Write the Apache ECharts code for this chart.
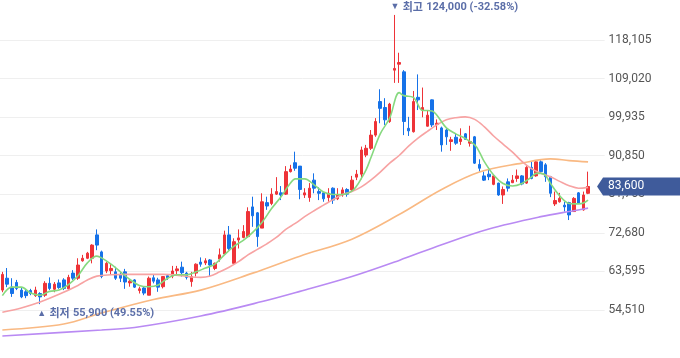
<!DOCTYPE html>
<html><head><meta charset="utf-8">
<script src="https://cdn.jsdelivr.net/npm/echarts@6/dist/echarts.min.js"></script>
<style>html,body{margin:0;padding:0;background:#fff}#c{width:680px;height:358px}</style>
</head><body><div id="c"></div>
<script>
// OHLC per trading day
const opens = [59200,62000,59900,61000,59200,58800,59100,57900,58400,58000,60800,59400,60900,61600,59500,63200,62000,66100,66700,66700,72200,68200,63700,63800,63500,62900,63500,60900,61600,59100,59700,58000,62100,61600,60000,62600,62500,63800,64600,63200,61200,63200,65800,65600,66300,64300,66500,67700,72200,65500,71000,71600,71800,78800,77400,73800,79800,79600,81800,82100,81800,87100,89200,88400,81600,81000,85100,82400,82100,81000,83200,80700,81600,82900,82800,85800,86500,91000,92600,95700,103600,102200,98900,111000,112400,110600,97300,96500,104600,101600,97800,104000,98200,97400,96900,94200,95200,94200,96000,93800,95300,88800,86100,86500,84100,84400,81600,84700,84500,85500,86100,84400,88100,86100,89400,88700,85900,79500,80000,79200,79800,77700,82100,78100,82000];
const closes = [62900,60600,58400,59600,57600,57900,58400,59200,57600,60800,59600,60600,59800,59600,62200,62000,65100,66700,67900,69800,69800,62400,65500,64300,62000,62000,61100,61300,59900,59500,58500,62000,61300,59900,62400,62100,63700,64200,63300,62200,62400,65300,65300,66100,65100,65500,67500,72200,69000,70600,71500,73000,77700,76700,71800,80000,79000,81800,82400,81600,87100,87700,87900,82900,82100,83200,83200,82000,80700,82000,80400,81600,82800,81800,85100,86500,92200,92600,95700,98900,102000,99300,103000,111400,112800,98900,96700,103600,104000,102200,100400,98100,98500,93400,95300,94600,93800,94800,94700,94200,89100,87900,85100,85900,86100,81600,82900,83200,85100,86100,84200,88100,85500,89400,87100,85900,82000,80300,80800,78800,76900,80800,79600,81600,83600];
const lows = [58700,59900,57600,59200,57300,57300,58000,57600,55900,57600,59200,58700,59500,59200,59200,61600,61600,65900,66500,65500,68600,62000,63200,62800,61600,61100,59500,60000,59700,58400,58000,58000,60800,58800,59600,61600,62000,62800,62400,61700,60000,62400,64700,65100,62400,63900,65900,67500,68600,65500,69000,71400,71600,74100,69400,73800,78100,79200,81600,80400,81600,86900,87300,80600,80900,80000,82000,80400,80000,80000,79500,80400,81200,81200,82400,85100,85300,90500,92200,95300,98500,98100,98600,108000,108000,95700,95500,96300,101600,99900,97700,97600,96900,91800,93400,92000,93400,93400,94600,93000,88900,87100,84900,85100,83900,81400,79500,82400,84400,84700,83900,84200,85300,85900,86700,84700,81100,79000,79800,77700,75700,77600,79500,77900,81800];
const highs = [63500,64400,62000,61600,59700,59200,59500,60000,58700,61300,62200,61100,61700,62000,62800,63900,66700,67500,68200,70000,73500,68500,65800,65500,64700,63500,64200,61600,61800,60000,60000,62400,62800,62100,62500,63000,64900,64900,65900,63500,63500,65500,66900,66700,66500,65700,69000,73200,74300,71400,73500,74500,78700,81200,77600,82000,81200,83200,85800,83700,88400,88700,91800,88400,83200,84400,86700,83400,82300,83200,83400,83200,83400,83200,86100,87500,93000,93400,96900,99700,106500,104400,103300,124000,115100,111000,100000,106100,110000,106900,101600,104100,99400,97700,97300,95300,96100,97300,96200,97900,95500,90000,87100,88100,86300,84500,83600,85500,86300,87600,86300,88400,89400,89800,89800,89100,86100,82400,82100,80000,80000,81100,82300,82400,87100];
// moving averages read at sampled days: [dayIndex, value]
const ma5 = [[0,57900],[2,59900],[4,59900],[6,58500],[8,58000],[10,58900],[12,59200],[14,60500],[16,62600],[18,65600],[20,67200],[21,66800],[23,65300],[25,63500],[27,61700],[29,60300],[31,60000],[33,60400],[35,62000],[37,62800],[39,62800],[41,63500],[43,64400],[45,65300],[47,67500],[49,69500],[51,70900],[53,72800],[55,75200],[57,78400],[59,81200],[61,84400],[62,85400],[64,85400],[66,84000],[68,82300],[70,81700],[72,81700],[74,82500],[75,83700],[76,85500],[77,87500],[78,90300],[80,96000],[82,99700],[84,105700],[85,105000],[87,104600],[89,101500],[90,101500],[91,101400],[92,100400],[94,97400],[96,96000],[98,94900],[100,93400],[101,91700],[102,89500],[104,86300],[106,84300],[108,83700],[110,84300],[112,85800],[113,86700],[114,86700],[115,86200],[116,84400],[118,81400],[120,79600],[122,79500],[123,79700],[124,80400]];
const ma20 = [[0,54000],[4,55000],[8,56400],[12,58200],[16,60300],[18,61600],[20,62500],[23,62800],[26,62900],[30,62900],[34,62900],[38,62600],[40,62300],[42,62200],[44,62500],[46,63500],[48,64600],[50,65900],[52,67500],[54,68800],[56,70100],[58,71600],[60,73500],[62,74900],[64,76500],[66,77900],[68,79200],[70,80500],[72,81700],[74,82400],[76,83500],[78,85100],[80,87000],[82,89100],[84,90900],[86,93100],[88,95000],[90,96600],[92,98100],[94,99300],[96,99800],[98,100000],[100,99400],[102,97700],[104,95500],[106,93600],[108,91700],[110,89500],[112,87800],[114,86700],[116,85900],[118,84800],[120,83800],[122,83200],[124,83400]];
const ma60 = [[0,49800],[13,51200],[21,53800],[32,57000],[42,59200],[53,63200],[63,67200],[74,71200],[84,77000],[93,82900],[101,87000],[110,89100],[116,90100],[120,89700],[124,89400]];
const ma120 = [[0,48400],[21,49800],[28,50400],[42,53100],[55,56500],[63,58900],[74,62400],[84,66200],[93,69900],[103,73600],[114,76500],[121,77900],[124,78500]];
const yMin = 45425, yMax = 127190, yStep = 9085;
const padDays = 3;

const categories = Array.from({length: opens.length + padDays}, (_, i) => 'D' + (i + 1));
const candleData = opens.map((o, i) => [o, closes[i], lows[i], highs[i]]);
const maxHigh = Math.max(...highs), minLow = Math.min(...lows);
const hiIdx = highs.indexOf(maxHigh), loIdx = lows.indexOf(minLow);
const last = closes[closes.length - 1];
const fmt = v => v.toLocaleString('en-US');
const pct = (a, b) => ((a / b - 1) * 100).toFixed(2);
const UP = '#ee3338', DOWN = '#1672e8', NOTE = '#5b6ea8';
const FONT = 'Roboto, "Noto Sans CJK KR", sans-serif';

const chart = echarts.init(document.getElementById('c'), null, {renderer: 'canvas'});
const lineS = (name, data, color) => ({
  name, type: 'line', data, smooth: 0.35, showSymbol: false, symbol: 'none',
  lineStyle: {color, width: 1.6}, silent: true, z: 3
});
const noteRich = {
  t: {fontSize: 9, color: NOTE},
  n: {fontSize: 11, color: NOTE, fontWeight: 'bold', fontFamily: '"Noto Sans CJK KR"'},
  b: {fontSize: 11, color: NOTE, fontWeight: 'bold', fontFamily: FONT}
};
chart.setOption({
  animation: false,
  grid: {left: -1.4, right: 75.4, top: 1.4, bottom: 9.4},
  xAxis: {type: 'category', data: categories, boundaryGap: true,
    axisLine: {show: false}, axisTick: {show: false}, axisLabel: {show: false}, splitLine: {show: false}},
  yAxis: {type: 'value', position: 'right', min: yMin, max: yMax, interval: yStep,
    axisLine: {show: false}, axisTick: {show: false},
    axisLabel: {showMinLabel: false, showMaxLabel: false, color: '#555', fontSize: 12, fontFamily: FONT, margin: 4, formatter: v => fmt(v)},
    splitLine: {show: true, showMinLine: false, showMaxLine: false, lineStyle: {color: '#efefef', width: 1}}},
  series: [
    {type: 'candlestick', data: candleData, barWidth: 3, z: 2,
      itemStyle: {color: UP, color0: DOWN, borderColor: UP, borderColor0: DOWN, borderWidth: 1},
      markPoint: {
        silent: true, animation: false,
        data: [
          {coord: [categories[hiIdx], maxHigh], symbol: 'circle', symbolSize: 0,
            label: {show: true, position: [-4, -8], align: 'left', verticalAlign: 'middle',
              formatter: '{t|▼} {n|최고} {b|' + fmt(maxHigh) + ' (' + pct(last, maxHigh) + '%)}',
              rich: noteRich}},
          {coord: [categories[loIdx], minLow], symbol: 'circle', symbolSize: 0,
            label: {show: true, position: [-3, 9], align: 'left', verticalAlign: 'middle',
              formatter: '{t|▲} {n|최저} {b|' + fmt(minLow) + ' (' + pct(last, minLow) + '%)}',
              rich: noteRich}},
          {coord: [categories[categories.length - 1], last],
            symbol: 'path://M0,9L6,0L100,0L100,18L6,18Z', symbolSize: [100, 18], symbolKeepAspect: false,
            symbolOffset: [44.8, 0], itemStyle: {color: '#3f5b9b'},
            label: {show: true, position: [11, 9], align: 'left', verticalAlign: 'middle',
              formatter: fmt(last), color: '#fff', fontSize: 12, fontFamily: FONT}}
        ]
      }},
    lineS('MA120', ma120, '#b98af3'),
    lineS('MA60', ma60, '#f9b983'),
    lineS('MA20', ma20, '#f7a3a3'),
    lineS('MA5', ma5, '#86d97f')
  ]
});
</script></body></html>
